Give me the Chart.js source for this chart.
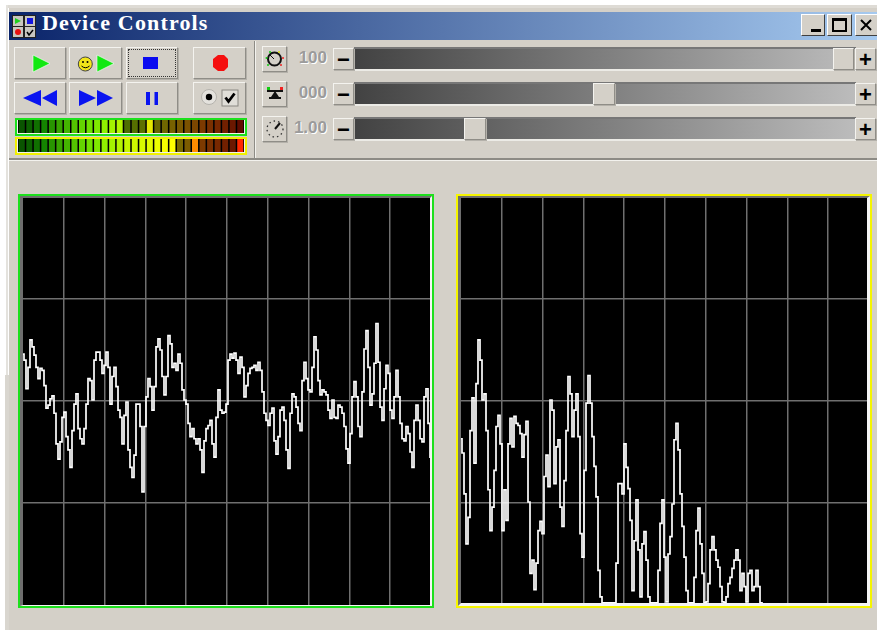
<!DOCTYPE html>
<html>
<head>
<meta charset="utf-8">
<title>Device Controls</title>
<script src="https://cdn.jsdelivr.net/npm/chart.js@4/dist/chart.umd.min.js"></script>
<style>
html, body { margin: 0; padding: 0; background: #fff; overflow: hidden; }
#app { position: relative; width: 877px; height: 630px; overflow: hidden; filter: blur(0.25px); }
#app div, #app svg, #app canvas { position: absolute; box-sizing: border-box; }
.win { left: 9px; top: 8px; width: 868px; height: 622px; background: #d4d0c8; }
.edge { background: #d9d6cf; }
.title { left: 9px; top: 12px; width: 868px; height: 28px; background: linear-gradient(90deg, #0a246a, #a6caf0); }
.titletext { left: 42px; top: 10px; color: #fff; font: bold 22px "Liberation Serif", serif; letter-spacing: 1.15px; white-space: nowrap; }
.btn { background: #d4d0c8; border: 1px solid; border-color: #f4f3ef #8f8d87 #8f8d87 #f4f3ef; box-shadow: 1px 1px 0 #b4b1aa; }
.focus { outline: 1px dotted #333; outline-offset: -3px; }
.wbtn { background: #d4d0c8; border: 1px solid; border-color: #fff #404040 #404040 #fff; color: #000; text-align: center; }
.groove { background: linear-gradient(90deg, #424242, #bcbcbc); border-top: 2px solid #777; border-bottom: 2px solid #ecebe6; }
.val { color: #9b9b9b; font: bold 17px "Liberation Sans", sans-serif; text-shadow: 1px 1px 0 #fff; width: 38px; text-align: right; }
.sym { font: bold 22px/20px "Liberation Sans", sans-serif; color: #000; text-align: center; width: 100%; left: 0; top: 1px; }
.sep { background: #8d8b85; }
.hl { background: #f3f2ee; }
.meter { background: #000; }
.frame { pointer-events: none; }
canvas.scope { background: #000; }
</style>
</head>
<body>
<div id="app">
  <div class="edge" style="left:5px;top:375px;width:4px;height:255px"></div>
  <div style="left:6px;top:5px;width:871px;height:3px;background:#dedbd5"></div>
  <div style="left:6px;top:5px;width:2px;height:370px;background:#e4e2dd"></div>
  <div class="win"></div>
  <div class="title"></div>
  <svg style="left:12px;top:15px" width="24" height="23" viewBox="0 0 24 23">
    <rect width="24" height="23" fill="#222"/>
    <rect x="1" y="1" width="10" height="10" fill="#c8c6c0"/><rect x="13" y="1" width="10" height="10" fill="#c8c6c0"/>
    <rect x="1" y="12" width="10" height="10" fill="#c8c6c0"/><rect x="13" y="12" width="10" height="10" fill="#c8c6c0"/>
    <polygon points="3,3 9,6 3,9" fill="#1fd01f"/><rect x="15" y="3" width="6" height="6" fill="#1515e0"/>
    <circle cx="6" cy="17" r="3" fill="#e81010"/><path d="M15 17l2 3 4-5" stroke="#000" stroke-width="1.5" fill="none"/>
  </svg>
  <div class="titletext">Device Controls</div>
  <div class="wbtn" style="left:801px;top:14px;width:24px;height:22px"><div style="left:9px;top:14px;width:10px;height:3px;background:#000"></div></div>
  <div class="wbtn" style="left:827px;top:14px;width:25px;height:22px"><div style="left:4px;top:3px;width:15px;height:14px;border:2px solid #000;border-top-width:3px"></div></div>
  <div class="wbtn" style="left:855px;top:14px;width:24px;height:22px"><svg style="left:4px;top:4px" width="12" height="12"><path d="M1 1L11 11M11 1L1 11" stroke="#000" stroke-width="2"/></svg></div>

  <div class="btn" style="left:14px;top:47px;width:52px;height:32px"></div>
  <div class="btn" style="left:69px;top:47px;width:53px;height:32px"></div>
  <div class="btn focus" style="left:126px;top:47px;width:52px;height:32px"></div>
  <div class="btn" style="left:193px;top:47px;width:53px;height:32px"></div>
  <div class="btn" style="left:14px;top:82px;width:52px;height:32px"></div>
  <div class="btn" style="left:69px;top:82px;width:53px;height:32px"></div>
  <div class="btn" style="left:126px;top:82px;width:52px;height:32px"></div>
  <div class="btn" style="left:193px;top:82px;width:53px;height:32px"></div>

  <svg style="left:0;top:40px" width="260" height="80" viewBox="0 40 260 80">
    <polygon points="33,55 50,63.5 33,72" fill="#12e812" stroke="#fff" stroke-width=".6"/>
    <circle cx="85.3" cy="64" r="7" fill="#f2e51a" stroke="#444"/><circle cx="83" cy="62" r="1" fill="#000"/><circle cx="87.5" cy="62" r="1" fill="#000"/><path d="M81.5 66q4 3.5 8 0" stroke="#000" fill="none"/>
    <polygon points="97,55 114,63.5 97,72" fill="#12e812" stroke="#fff" stroke-width=".6"/>
    <rect x="143" y="57" width="15" height="12" fill="#0a0af0"/>
    <polygon points="218,55 224,55 228,59 228,67 224,71 218,71 213,67 213,59" fill="#f50f0f"/>
    <polygon points="23,98 41,90 41,106" fill="#0a14f0"/><polygon points="42,98 57,90 57,106" fill="#0a14f0"/>
    <polygon points="79,90 96,98 79,106" fill="#0a14f0"/><polygon points="97,90 113,98 97,106" fill="#0a14f0"/>
    <rect x="146" y="92" width="4" height="13" fill="#0a14f0"/><rect x="154.5" y="92" width="3.5" height="13" fill="#0a14f0"/>
    <circle cx="209" cy="97" r="7.5" fill="#e4e2dd" stroke="#b5b3ad"/><circle cx="209" cy="97" r="3.2" fill="#000"/>
    <rect x="222" y="90" width="16" height="16" fill="#e0ded8" stroke="#8a8882"/>
    <path d="M225.5 97.5l3 4 6-8" stroke="#000" stroke-width="2.8" fill="none"/>
  </svg>

  <div style="left:15px;top:118px;width:232px;height:18px;background:#f1f0ec;border:2px solid #1de01d"></div>
  <div class="meter" style="left:18px;top:120px;width:226px;height:13px"><canvas id="meterA" width="226" height="13"></canvas></div>
  <div style="left:15px;top:137px;width:232px;height:18px;background:#f1f0ec;border:2px solid #f0f000"></div>
  <div class="meter" style="left:18px;top:139px;width:226px;height:13px"><canvas id="meterB" width="226" height="13"></canvas></div>

  <div class="sep" style="left:254px;top:41px;width:1px;height:118px"></div>
  <div class="hl" style="left:255px;top:41px;width:1px;height:118px"></div>

  <div class="btn" style="left:262px;top:46px;width:25px;height:26px"></div>
  <div class="btn" style="left:262px;top:81px;width:25px;height:26px"></div>
  <div class="btn" style="left:262px;top:116px;width:25px;height:26px"></div>
  <svg style="left:262px;top:46px" width="26" height="96" viewBox="0 0 26 96">
    <circle cx="12.5" cy="13" r="6.5" fill="none" stroke="#111" stroke-width="2"/><path d="M12 13L8 9" stroke="#111"/>
    <circle cx="6" cy="19" r="1" fill="#1c1"/><circle cx="4.5" cy="12" r="1" fill="#1c1"/><circle cx="8" cy="6" r="1" fill="#1c1"/><circle cx="17" cy="6" r="1" fill="#dd1"/><circle cx="21" cy="12" r="1" fill="#e22"/><circle cx="19" cy="19" r="1" fill="#e22"/>
    <rect x="5" y="44" width="16" height="2" fill="#111"/><polygon points="13,45 17,51 9,51" fill="#111"/><rect x="7" y="51" width="12" height="2" fill="#111"/><rect x="5" y="41" width="3" height="3" fill="#1c1"/><rect x="18" y="41" width="3" height="3" fill="#e22"/>
    <path d="M13 83L18 77" stroke="#111" stroke-width="2"/><circle cx="13" cy="83" r="8" fill="none" stroke="#333" stroke-width="1.3" stroke-dasharray="1.5 3"/>
  </svg>

  <div class="val" style="left:289px;top:48px">100</div>
  <div class="val" style="left:289px;top:83px">000</div>
  <div class="val" style="left:289px;top:118px">1.00</div>

  <div class="groove" style="left:354px;top:47px;width:502px;height:24px"></div>
  <div class="groove" style="left:354px;top:82px;width:502px;height:24px"></div>
  <div class="groove" style="left:354px;top:117px;width:502px;height:24px"></div>
  <div class="btn" style="left:833px;top:48px;width:21px;height:22px"></div>
  <div class="btn" style="left:593px;top:83px;width:22px;height:22px"></div>
  <div class="btn" style="left:464px;top:118px;width:22px;height:22px"></div>
  <div class="btn" style="left:333px;top:48px;width:21px;height:22px"><div class="sym">&#8722;</div></div>
  <div class="btn" style="left:333px;top:83px;width:21px;height:22px"><div class="sym">&#8722;</div></div>
  <div class="btn" style="left:333px;top:118px;width:21px;height:22px"><div class="sym">&#8722;</div></div>
  <div class="btn" style="left:855px;top:48px;width:21px;height:22px"><div class="sym">+</div></div>
  <div class="btn" style="left:855px;top:83px;width:21px;height:22px"><div class="sym">+</div></div>
  <div class="btn" style="left:855px;top:118px;width:21px;height:22px"><div class="sym">+</div></div>

  <div class="sep" style="left:9px;top:158px;width:868px;height:2px"></div>
  <div class="hl" style="left:9px;top:160px;width:868px;height:1px"></div>

  <canvas class="scope" id="leftScope" style="left:22.5px;top:197px;width:408px;height:408px" width="408" height="408"></canvas>
  <canvas class="scope" id="rightScope" style="left:460.5px;top:197px;width:408px;height:408px" width="408" height="408"></canvas>

  <div class="frame" style="left:18px;top:194px;width:416px;height:414px;border:2px solid #1de01d"></div>
  <div class="frame" style="left:20px;top:196px;width:412px;height:410px;border:solid;border-width:2px 2px 1px 3px;border-color:#6e6e6e #f4f4f4 #f4f4f4 #6e6e6e"></div>
  <div class="frame" style="left:456px;top:194px;width:416px;height:414px;border:2px solid #f5f500"></div>
  <div class="frame" style="left:458px;top:196px;width:412px;height:410px;border:solid;border-width:2px 3px 3px 3px;border-color:#6e6e6e #f4f4f4 #f4f4f4 #6e6e6e"></div>
</div>

<script>
// left scope, one value every 2px
const leftSignal = [
  46, 40, 12, 33, 60, 53, 45, 33, 22, 32, 30, 15, -7, -4, 2, 5, -12, -42, -57, -40,
  -16, -11, -35, -48, -65, -29, -3, 7, -27, -37, -42, -27, -3, 22, 20, 1, 40, 48, 48, 40,
  27, 35, 48, 33, -3, 24, 33, 14, -9, -16, -42, -14, -1, -48, -65, -75, -53, -3, -3, -25,
  -89, -25, 4, 22, 14, -9, 14, 53, 61, 50, 24, 6, 24, 64, 56, 33, 37, 30, 46, 37,
  11, 1, -3, -22, -35, -27, -37, -42, -37, -48, -70, -39, -27, -24, -19, -42, -55, -16, 11, -9,
  -12, -11, -3, 40,
  46, 42, 47, 40, 27, 43, 33, 4, 15, 27, 32, 33, 35, 30, 38, 30, 9, -12, -19, -24,
  -12, -7, -39, -52, -35, -9, -6, -19, -48, -66, -12, 7, 4, -6, -22, -29, 20, 38, 22, 11,
  9, 33, 63, 50, 20, 6, 11, 9, 6, -9, -17, 1, -16, -17, -4, -6, -12, -25, -47, -61,
  -32, 4, 19, 4, -25, -35, 9, 51, 69, 33, -4, 7, 37, 76, 38, -6, -19, 12, 35, 27,
  -9, -17, 4, 30, 4, -22, -37, -39, -25, -32, -50, -65, -19, -4, -19, -37, -40, 4, 12, -22,
  -55, -25, 2, 37, 22
];

// right scope
const rightSpectrum = [
  163, 149, 109, 60, 86, 171, 203, 139, 217, 260, 240, 201, 207, 171, 113, 73, 96, 132, 175, 186,
  158, 73, 113, 83, 158, 183, 155, 185, 178, 176, 168, 145, 167, 180, 101, 31, 44, 15, 41, 73,
  82, 70, 126, 147, 116, 201, 191, 119, 155, 162, 96, 77, 122, 171, 224, 207, 165, 191, 207, 165,
  70, 47, 132, 198, 225, 198, 165, 136, 106, 34, 8, 2, 2, 2, 2, 2, 2, 2, 41, 119,
  119, 109, 158, 135, 114, 83, 14, 63, 103, 54, 8, 60, 72, 44, 8, 2, 2, 2, 2, 34,
  80, 103, 47, 3, 50, 67, 99, 162, 178, 152, 109, 77, 47, 14, 2, 2, 2, 27, 73, 95,
  60, 31, 2, 3, 21, 54, 67, 54, 44, 37, 18, 3, 2, 8, 21, 27, 36, 44, 54, 44,
  14, 31, 18, 3, 31, 34, 14, 18, 34, 18, 2,
  1, 1, 1, 1, 1, 1, 1, 1, 1, 1, 1, 1, 1, 1, 1, 1, 1, 1,
  1, 1, 1, 1, 1, 1, 1, 1, 1, 1, 1, 1, 1, 1, 1, 1, 1, 1,
  1, 1, 1, 1, 1, 1, 1, 1, 1, 1, 1, 1, 1, 1, 1, 1, 1
];

// vu meter segments, top and bottom row
const meterSegments = [1,2,3,4,5,6,7,8,9,10,11,12,13,14,15,16,17,18,19,20,21,22,23,24,25,26,27,28,29,30];
const meterLevels = [1,1,1,1,1,1,1,1,1,1,1,1,1,1,1,1,1,1,1,1,1,1,1,1,1,1,1,1,1,1];
const meterTopColors = [
  "#0a5400","#0c6000","#107000","#148400","#289400","#38a400","#44b400","#54c400","#64d400","#70e000",
  "#80e800","#90ee00","#a4f200","#b4f400","#4e6e00","#566e00","#5e7000","#e6e800","#6a6800","#706600",
  "#786200","#7a5a00","#7c5200","#7c4600","#7c3a00","#7a3000","#782800","#722000","#6c1800","#600c00"
];
const meterBottomColors = [
  "#0a5400","#0c6000","#107000","#148400","#289400","#38a400","#44b400","#54c400","#64d400","#70e000",
  "#80e800","#90ee00","#a4f200","#b4f400","#c4f600","#d0f800","#d8fa00","#e2fc00","#ecfe00","#f6ff00",
  "#ffff00","#786800","#7c5c00","#ff8c00","#7c3a00","#7a3000","#782800","#722000","#6c1800","#ff2800"
];

const gridColor = "#6f6f6f";

function hideEdges(ctx) {
  const last = ctx.scale.ticks.length - 1;
  return (ctx.index === 0 || ctx.index === last) ? "rgba(0,0,0,0)" : gridColor;
}

function makeScope(id, values, yMin, yMax) {
  new Chart(document.getElementById(id).getContext("2d"), {
    type: "line",
    data: {
      datasets: [{
        data: values.map((v, i) => ({x: i, y: v})),
        borderColor: "#ffffff",
        borderWidth: 1.7,
        pointRadius: 0,
        stepped: "middle"
      }]
    },
    options: {
      responsive: false,
      animation: false,
      parsing: false,
      layout: {padding: 0},
      plugins: {legend: {display: false}, tooltip: {enabled: false}},
      scales: {
        x: {
          type: "linear", min: 0, max: 204,
          ticks: {display: false, stepSize: 20.4},
          grid: {color: hideEdges, lineWidth: 1.5, drawTicks: false},
          border: {display: false}
        },
        y: {
          min: yMin, max: yMax,
          ticks: {display: false, stepSize: 100},
          grid: {color: hideEdges, lineWidth: 1.5, drawTicks: false},
          border: {display: false}
        }
      }
    }
  });
}

function makeMeter(id, colors) {
  new Chart(document.getElementById(id).getContext("2d"), {
    type: "bar",
    data: {
      labels: meterSegments,
      datasets: [{data: meterLevels, backgroundColor: colors, barPercentage: 0.8, categoryPercentage: 1}]
    },
    options: {
      responsive: false,
      animation: false,
      layout: {padding: 0},
      plugins: {legend: {display: false}, tooltip: {enabled: false}},
      scales: {
        x: {display: false},
        y: {display: false, min: 0, max: 1}
      }
    }
  });
}

makeScope("leftScope", leftSignal, -200, 200);
makeScope("rightScope", rightSpectrum, 0, 400);
makeMeter("meterA", meterTopColors);
makeMeter("meterB", meterBottomColors);
</script>
</body>
</html>
